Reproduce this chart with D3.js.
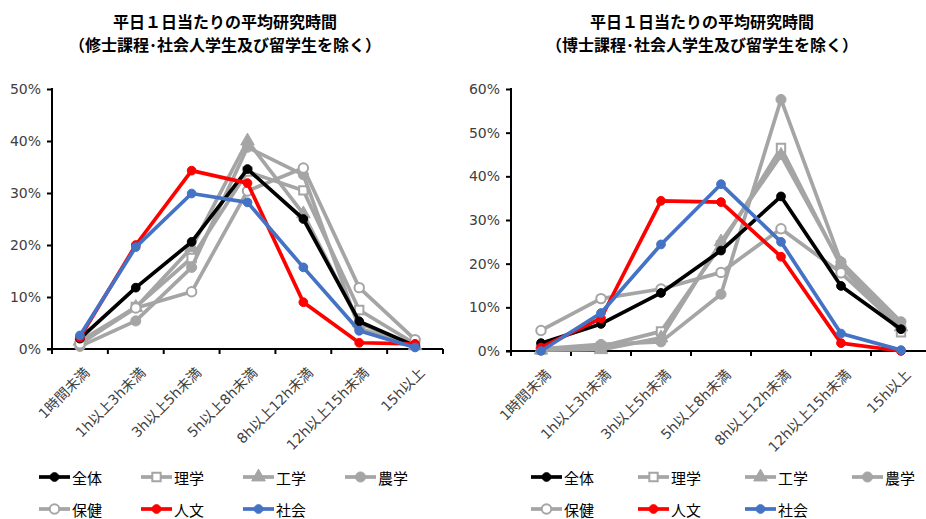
<!DOCTYPE html>
<html>
<head>
<meta charset="utf-8">
<script src="https://cdn.jsdelivr.net/npm/d3@7"></script>
<style>
  html, body { margin: 0; padding: 0; background: #fff; }
  svg { display: block; }
  text { font-family: "DejaVu Sans", "Noto Sans CJK JP", sans-serif; }
  .title { font-family: "Noto Sans CJK JP", sans-serif; font-weight: bold; font-size: 16px; fill: #000; }
</style>
</head>
<body>
<svg id="chart" width="926" height="519"></svg>
<script>
// Time-band categories (hours of research per weekday)
const categories = ["1時間未満", "1h以上3h未満", "3h以上5h未満", "5h以上8h未満", "8h以上12h未満", "12h以上15h未満", "15h以上"];

// Series names, in legend order
const seriesNames = ["全体", "理学", "工学", "農学", "保健", "人文", "社会"];

// Master's students (%), one array per field
const master全体 = [2.0, 11.8, 20.6, 34.6, 25.0, 5.3, 0.6];
const master理学 = [1.0, 8.1, 17.5, 34.1, 30.5, 7.5, 1.0];
const master工学 = [1.5, 8.0, 19.5, 40.0, 26.0, 5.0, 0.6];
const master農学 = [0.5, 5.4, 15.7, 38.8, 33.5, 4.0, 0.5];
const master保健 = [1.0, 7.9, 11.0, 30.4, 34.8, 11.8, 1.8];
const master人文 = [2.2, 20.0, 34.3, 31.9, 9.0, 1.2, 1.0];
const master社会 = [2.6, 19.6, 29.9, 28.2, 15.7, 3.5, 0.3];

// Doctoral students (%), one array per field
const doctor全体 = [1.8, 6.2, 13.3, 23.0, 35.4, 14.9, 5.0];
const doctor理学 = [0.3, 1.0, 4.5, 24.2, 46.5, 19.5, 4.3];
const doctor工学 = [0.2, 0.3, 3.0, 25.0, 44.8, 20.0, 5.5];
const doctor農学 = [0.5, 1.5, 2.1, 13.0, 57.6, 20.4, 6.7];
const doctor保健 = [4.7, 12.0, 14.2, 18.0, 28.0, 17.9, 5.2];
const doctor人文 = [0.8, 7.5, 34.4, 34.1, 21.6, 1.8, 0.0];
const doctor社会 = [0.0, 8.7, 24.4, 38.2, 25.0, 4.0, 0.2];

// Axis tick values (%)
const masterTicks = [0, 10, 20, 30, 40, 50];
const doctorTicks = [0, 10, 20, 30, 40, 50, 60];

const titles = {
  master: ["平日１日当たりの平均研究時間", "（修士課程･社会人学生及び留学生を除く）"],
  doctor: ["平日１日当たりの平均研究時間", "（博士課程･社会人学生及び留学生を除く）"]
};

const GRAY = "#A5A5A5";
const styles = {
  "全体": { color: "#000000", symbol: d3.symbolCircle, size: 60, open: false },
  "理学": { color: GRAY, symbol: d3.symbolSquare, size: 70, open: true },
  "工学": { color: GRAY, symbol: d3.symbolTriangle, size: 80, open: false },
  "農学": { color: GRAY, symbol: d3.symbolCircle, size: 80, open: false },
  "保健": { color: GRAY, symbol: d3.symbolCircle, size: 70, open: true },
  "人文": { color: "#FF0000", symbol: d3.symbolCircle, size: 60, open: false },
  "社会": { color: "#4472C4", symbol: d3.symbolCircle, size: 60, open: false }
};
// gray fields underneath, highlighted fields on top
const drawOrder = ["理学", "工学", "農学", "保健", "全体", "人文", "社会"];

const svg = d3.select("#chart");

function drawPanel(cfg) {
  const g = svg.append("g");
  const x = d3.scaleBand().domain(categories).range(cfg.xRange).padding(0);
  const y = d3.scaleLinear().domain([0, cfg.yMax]).range(cfg.yRange);

  // title
  cfg.title.forEach((t, i) => {
    g.append("text").attr("class", "title")
      .attr("x", cfg.titleX).attr("y", cfg.titleY[i])
      .attr("text-anchor", "middle").attr("dominant-baseline", "central")
      .text(t);
  });

  // y axis
  const yAxis = g.append("g")
    .attr("transform", `translate(${cfg.xRange[0]},0)`)
    .call(d3.axisLeft(y).tickValues(cfg.ticks).tickFormat(d => d + "%").tickSize(5).tickPadding(6));
  yAxis.select(".domain").attr("stroke", "#000").attr("stroke-width", 2)
    .attr("d", `M0,${cfg.yRange[1] - 1}V${cfg.yRange[0]}`);
  yAxis.selectAll(".tick line").attr("stroke", "#000").attr("stroke-width", 2);
  yAxis.selectAll(".tick text").attr("fill", "#404040").style("font-size", "14px");

  // x axis: line, boundary ticks, rotated labels
  const y0 = y(0);
  const xg = g.append("g");
  xg.append("line")
    .attr("x1", cfg.xRange[0] - 5).attr("x2", cfg.xRange[1])
    .attr("y1", y0).attr("y2", y0)
    .attr("stroke", "#000").attr("stroke-width", 2);
  const bounds = categories.map(c => x(c)).concat([x(categories[categories.length - 1]) + x.bandwidth()]);
  xg.selectAll("line.tk").data(bounds).enter().append("line")
    .attr("class", "tk")
    .attr("x1", d => d).attr("x2", d => d)
    .attr("y1", y0).attr("y2", y0 + 5)
    .attr("stroke", "#000").attr("stroke-width", 2);
  xg.selectAll("text").data(categories).enter().append("text")
    .attr("transform", c => `translate(${x(c) + x.bandwidth() / 2 + 7},${y0 + 21}) rotate(-45)`)
    .attr("text-anchor", "end").attr("dominant-baseline", "central")
    .attr("fill", "#404040").style("font-size", "14px")
    .text(c => c);

  // series lines and markers
  const line = d3.line()
    .x((d, i) => x(categories[i]) + x.bandwidth() / 2)
    .y(d => y(d));
  drawOrder.forEach(name => {
    const st = styles[name];
    const vals = cfg.data[name];
    const sg = g.append("g");
    sg.append("path").datum(vals)
      .attr("d", line)
      .attr("fill", "none").attr("stroke", st.color)
      .attr("stroke-width", 3.7).attr("stroke-linejoin", "round");
    sg.selectAll("path.m").data(vals).enter().append("path")
      .attr("class", "m")
      .attr("transform", (d, i) => `translate(${x(categories[i]) + x.bandwidth() / 2},${y(d)})`)
      .attr("d", d3.symbol().type(st.symbol).size(st.size))
      .attr("fill", st.open ? "#fff" : st.color)
      .attr("stroke", st.color).attr("stroke-width", st.open ? 2 : 1);
  });

  // legend
  seriesNames.forEach((name, i) => {
    const st = styles[name];
    const row = i < 4 ? 0 : 1;
    const col = i < 4 ? i : i - 4;
    const lx = cfg.legendX + col * cfg.legendStep;
    const ly = cfg.legendY[row];
    const lg = g.append("g").attr("transform", `translate(${lx},${ly})`);
    lg.append("line").attr("x1", 0).attr("x2", 31).attr("y1", 0).attr("y2", 0)
      .attr("stroke", st.color).attr("stroke-width", 3.7);
    lg.append("path").attr("transform", "translate(15.5,0)")
      .attr("d", d3.symbol().type(st.symbol).size(st.size))
      .attr("fill", st.open ? "#fff" : st.color)
      .attr("stroke", st.color).attr("stroke-width", st.open ? 2 : 1);
    lg.append("text").attr("x", 33).attr("y", 0)
      .attr("dominant-baseline", "central")
      .attr("fill", "#000").style("font-size", "15px")
      .style("font-family", "'Noto Sans CJK JP', sans-serif")
      .text(name);
  });
}

drawPanel({
  title: titles.master, titleX: 225, titleY: [20.5, 44],
  xRange: [52, 443], yRange: [349, 89], yMax: 50, ticks: masterTicks,
  legendX: 39, legendStep: 102, legendY: [477, 509],
  data: { "全体": master全体, "理学": master理学, "工学": master工学, "農学": master農学,
          "保健": master保健, "人文": master人文, "社会": master社会 }
});

drawPanel({
  title: titles.doctor, titleX: 702, titleY: [20.5, 44],
  xRange: [511, 931], yRange: [351, 89], yMax: 60, ticks: doctorTicks,
  legendX: 531, legendStep: 107, legendY: [477, 509],
  data: { "全体": doctor全体, "理学": doctor理学, "工学": doctor工学, "農学": doctor農学,
          "保健": doctor保健, "人文": doctor人文, "社会": doctor社会 }
});
</script>
</body>
</html>
